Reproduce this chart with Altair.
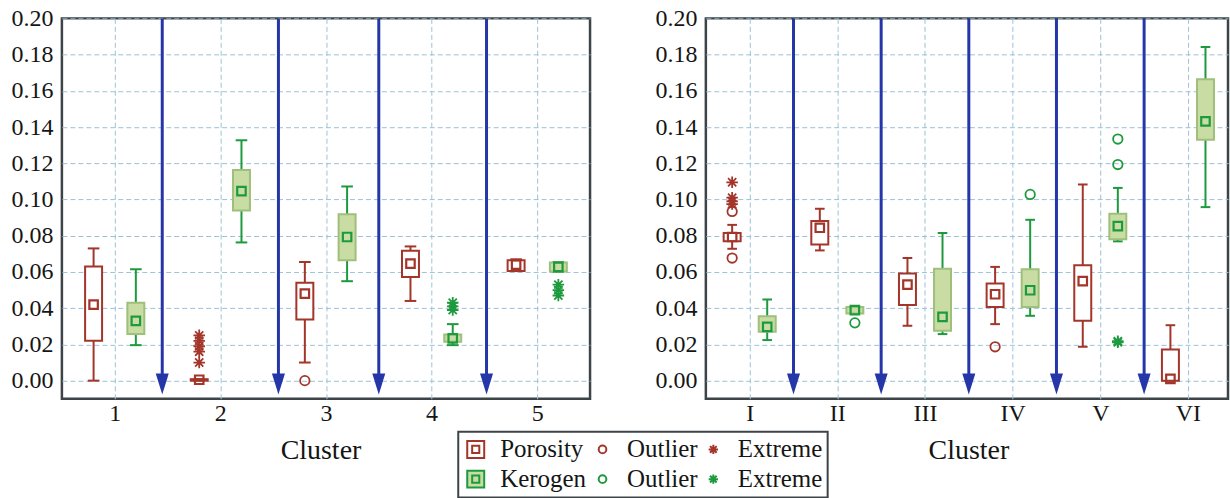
import altair as alt
import pandas as pd

# ---------------- data ----------------
# Five-number style summaries per cluster: lower whisker, Q1, mean, Q3, upper whisker
a_pos = [1, 2, 3, 4, 5]
a_tick_text = ["1", "2", "3", "4", "5"]
a_por_lo = [0.000, 0.000, 0.0100, 0.0440, 0.0605]
a_por_q1 = [0.022, 0.000, 0.0338, 0.0572, 0.0605]
a_por_mid = [0.042, 0.0005, 0.0480, 0.0646, 0.0640]
a_por_q3 = [0.063, 0.0008, 0.0540, 0.0717, 0.0665]
a_por_hi = [0.073, 0.0008, 0.0655, 0.0741, 0.0670]
a_ker_lo = [0.0196, 0.0763, 0.0549, 0.0196, 0.0600]
a_ker_q1 = [0.0257, 0.0940, 0.0664, 0.0215, 0.0603]
a_ker_mid = [0.0330, 0.1046, 0.0793, 0.0233, 0.0628]
a_ker_q3 = [0.0430, 0.1163, 0.0919, 0.0255, 0.0652]
a_ker_hi = [0.0615, 0.1327, 0.1072, 0.0312, 0.0655]
# outliers / extremes (cluster, value)
a_por_out_pos = [3]
a_por_out_val = [0.000]
a_por_ext_pos = [2, 2, 2, 2, 2]
a_por_ext_val = [0.025, 0.022, 0.019, 0.016, 0.010]
a_ker_out_pos = []
a_ker_out_val = []
a_ker_ext_pos = [4, 4, 4, 5, 5, 5]
a_ker_ext_val = [0.043, 0.041, 0.039, 0.053, 0.050, 0.047]
a_arrows = [1.45, 2.55, 3.5, 4.52]

b_pos = [1, 2, 3, 4, 5, 6]
b_tick_text = ["I", "II", "III", "IV", "V", "VI"]
b_por_lo = [0.0728, 0.0719, 0.0303, 0.0312, 0.0187, 0.0000]
b_por_q1 = [0.0769, 0.0752, 0.0417, 0.0407, 0.0330, 0.0000]
b_por_mid = [0.0793, 0.0844, 0.0530, 0.0477, 0.0549, 0.0010]
b_por_q3 = [0.0815, 0.0881, 0.0591, 0.0536, 0.0637, 0.0172]
b_por_hi = [0.0860, 0.0949, 0.0677, 0.0628, 0.1083, 0.0306]
b_ker_lo = [0.0224, 0.0371, 0.0257, 0.0358, 0.0769, 0.0958]
b_ker_q1 = [0.0270, 0.0371, 0.0275, 0.0407, 0.0780, 0.1330]
b_ker_mid = [0.0297, 0.0389, 0.0352, 0.0499, 0.0853, 0.1431]
b_ker_q3 = [0.0356, 0.0407, 0.0618, 0.0615, 0.0921, 0.1664]
b_ker_hi = [0.0448, 0.0407, 0.0815, 0.0888, 0.1064, 0.1842]
b_por_out_pos = [1, 1, 4]
b_por_out_val = [0.0934, 0.0677, 0.0187]
b_por_ext_pos = [1, 1, 1, 1]
b_por_ext_val = [0.1095, 0.1010, 0.0990, 0.0975]
b_ker_out_pos = [2, 4, 5, 5]
b_ker_out_val = [0.0319, 0.1028, 0.1334, 0.1193]
b_ker_ext_pos = [5, 5]
b_ker_ext_val = [0.0218, 0.0212]
b_arrows = [1.5, 2.5, 3.5, 4.5, 5.5]

y_ticks = [0.00, 0.02, 0.04, 0.06, 0.08, 0.10, 0.12, 0.14, 0.16, 0.18, 0.20]

# legend entries, listed column by column (two rows)
legend_keys = ["por_box", "ker_box", "por_out", "ker_out", "por_ext", "ker_ext"]
legend_text = ["Porosity", "Kerogen", "Outlier", "Outlier", "Extreme", "Extreme"]

# ---------------- styling ----------------
RED = "#a3352a"
GREEN = "#1e9a3e"
BOX_GREEN = "#c8dca3"
BOX_GREEN_EDGE = "#9fbf7c"
BLUE = "#2536a8"
GRID = "#9cc2d8"
BORDER = "#3c4447"
FONT = "Liberation Serif"

SQ_ICON = "M-1,-1L1,-1L1,1L-1,1Z M-0.42,-0.42L0.42,-0.42L0.42,0.42L-0.42,0.42Z"
CIRCLE = "M0.45,0A0.45,0.45,0,1,1,-0.45,0A0.45,0.45,0,1,1,0.45,0Z"
STAR = "M0,-0.55L0,0.55M-0.55,0L0.55,0M-0.39,-0.39L0.39,0.39M-0.39,0.39L0.39,-0.39"
ARROW_HEAD = "M-0.62,-1L0.62,-1L0,1Z"

legend_shapes = [SQ_ICON, SQ_ICON, CIRCLE, CIRCLE, STAR, STAR]
legend_strokes = [RED, GREEN, RED, GREEN, RED, GREEN]
legend_fills = ["white", BOX_GREEN, "transparent", "transparent", "transparent", "transparent"]


def stats_frame(pos, por, ker):
    rows = []
    for name, (lo, q1, mid, q3, hi) in (("Porosity", por), ("Kerogen", ker)):
        for i, p in enumerate(pos):
            rows.append(dict(pos=p, var=name, lo=lo[i], q1=q1[i], mid=mid[i], q3=q3[i], hi=hi[i]))
    return pd.DataFrame(rows)


def points_frame(groups):
    rows = []
    for var, key, ps, vs in groups:
        for p, v in zip(ps, vs):
            rows.append(dict(pos=p, var=var, key=key, value=v))
    return pd.DataFrame(rows)


a_stats = stats_frame(a_pos, (a_por_lo, a_por_q1, a_por_mid, a_por_q3, a_por_hi),
                      (a_ker_lo, a_ker_q1, a_ker_mid, a_ker_q3, a_ker_hi))
b_stats = stats_frame(b_pos, (b_por_lo, b_por_q1, b_por_mid, b_por_q3, b_por_hi),
                      (b_ker_lo, b_ker_q1, b_ker_mid, b_ker_q3, b_ker_hi))
a_pts = points_frame([
    ("Porosity", "por_out", a_por_out_pos, a_por_out_val),
    ("Porosity", "por_ext", a_por_ext_pos, a_por_ext_val),
    ("Kerogen", "ker_out", a_ker_out_pos, a_ker_out_val),
    ("Kerogen", "ker_ext", a_ker_ext_pos, a_ker_ext_val),
])
b_pts = points_frame([
    ("Porosity", "por_out", b_por_out_pos, b_por_out_val),
    ("Porosity", "por_ext", b_por_ext_pos, b_por_ext_val),
    ("Kerogen", "ker_out", b_ker_out_pos, b_ker_out_val),
    ("Kerogen", "ker_ext", b_ker_ext_pos, b_ker_ext_val),
])

key_list = "[" + ",".join(f"'{k}'" for k in legend_keys) + "]"
text_list = "[" + ",".join(f"'{t}'" for t in legend_text) + "]"
legend = alt.Legend(
    orient="none", legendX=397, legendY=414, columns=3, title=None,
    labelExpr=f"{text_list}[indexof({key_list}, datum.label)]",
)


def panel(stats, pts, arrows, tick_text, xmax, width, title_x):
    xs = alt.Scale(domain=[0.5, xmax], nice=False, zero=False)
    ys = alt.Scale(domain=[-0.01, 0.20], nice=False, zero=False)
    tick_arr = "[" + ",".join(f"'{t}'" for t in tick_text) + "]"
    x_axis = alt.Axis(
        values=list(range(1, len(tick_text) + 1)),
        labelExpr=f"{tick_arr}[datum.value - 1]",
        title="Cluster", titleX=title_x, titleY=60, titleBaseline="alphabetic",
        titleAnchor="start", titleAlign="center",
    )
    y_axis = alt.Axis(values=y_ticks, format=".2f", title=None)

    def X(f):
        return alt.X(f, scale=xs, axis=x_axis)

    def Y(f):
        return alt.Y(f, scale=ys, axis=y_axis)

    shift = "datum.pos + (datum.var == 'Porosity' ? -0.2 : 0.2)"
    is_por = "datum.var == 'Porosity'"
    line_col = alt.condition(is_por, alt.value(RED), alt.value(GREEN))

    base = alt.Chart(stats).transform_calculate(xc=shift)

    whiskers = base.mark_rule(strokeWidth=2).encode(
        x=X("xc:Q"), y=Y("lo:Q"), y2="hi:Q", stroke=line_col,
    )
    caps = base.transform_fold(["lo", "hi"], as_=["end", "yv"]).transform_calculate(
        xa="datum.xc - 0.055", xb="datum.xc + 0.055"
    ).mark_rule(strokeWidth=2).encode(
        x=X("xa:Q"), x2="xb:Q", y=Y("yv:Q"), stroke=line_col,
    )
    half = 8.5 / (width / (xmax - 0.5))
    boxes = base.transform_calculate(
        xa=f"datum.xc - {half:.4f}", xb=f"datum.xc + {half:.4f}"
    ).mark_rect(strokeWidth=2).encode(
        x=X("xa:Q"), x2="xb:Q", y=Y("q1:Q"), y2="q3:Q",
        fill=alt.condition(is_por, alt.value("white"), alt.value(BOX_GREEN)),
        stroke=alt.condition(is_por, alt.value(RED), alt.value(BOX_GREEN_EDGE)),
    )
    means = base.mark_point(shape="square", size=72, strokeWidth=2.2, filled=False, opacity=1).encode(
        x=X("xc:Q"), y=Y("mid:Q"), stroke=line_col,
    )
    marks = alt.Chart(pts).transform_calculate(xc=shift).mark_point(
        size=441, strokeWidth=1.8, opacity=1
    ).encode(
        x=X("xc:Q"), y=Y("value:Q"),
        shape=alt.Shape("key:N", scale=alt.Scale(domain=legend_keys, range=legend_shapes), legend=legend),
        stroke=alt.Stroke("key:N", scale=alt.Scale(domain=legend_keys, range=legend_strokes), legend=legend),
        fill=alt.Fill("key:N", scale=alt.Scale(domain=legend_keys, range=legend_fills), legend=legend),
    )
    # arrows run from the top of the axis down to just below zero
    adf = pd.DataFrame({"ax": arrows})
    arrow_base = alt.Chart(adf).transform_calculate(top="0.20", end="-0.004", head="-0.0019")
    shafts = arrow_base.mark_rule(color=BLUE, strokeWidth=3).encode(
        x=X("ax:Q"), y=Y("top:Q"), y2="end:Q",
    )
    heads = arrow_base.mark_point(shape=ARROW_HEAD, size=441, filled=True, color=BLUE, opacity=1).encode(
        x=X("ax:Q"), y=Y("head:Q"),
    )
    return alt.layer(whiskers, caps, boxes, means, marks, shafts, heads).properties(
        width=width, height=381
    )


left = panel(a_stats, a_pts, a_arrows, a_tick_text, 5.5, 529, 259)
right = panel(b_stats, b_pts, b_arrows, b_tick_text, 6.457, 523, 263)

chart = alt.hconcat(left, right, spacing=116, bounds="flush").properties(
    padding={"left": 9, "top": 4, "right": 0, "bottom": 0},
    background="white",
).configure_view(
    stroke=BORDER, strokeWidth=2.5
).configure_axis(
    labelFont=FONT, labelFontSize=24, labelColor="#151515",
    titleFont=FONT, titleFontSize=28, titleFontWeight="normal", titleColor="#151515",
    ticks=False, domain=False, grid=True, gridColor=GRID, gridDash=[5, 3], gridWidth=1,
).configure_axisX(
    labelPadding=3
).configure_axisY(
    labelPadding=9
).configure_legend(
    labelFont=FONT, labelFontSize=25, labelColor="#151515",
    symbolSize=289, symbolStrokeWidth=2, labelOffset=12, columnPadding=3, rowPadding=4,
    padding=5, strokeColor=BORDER, strokeWidth=2,
)

chart.save("out.html", embed_options={"renderer": "svg", "actions": False})
